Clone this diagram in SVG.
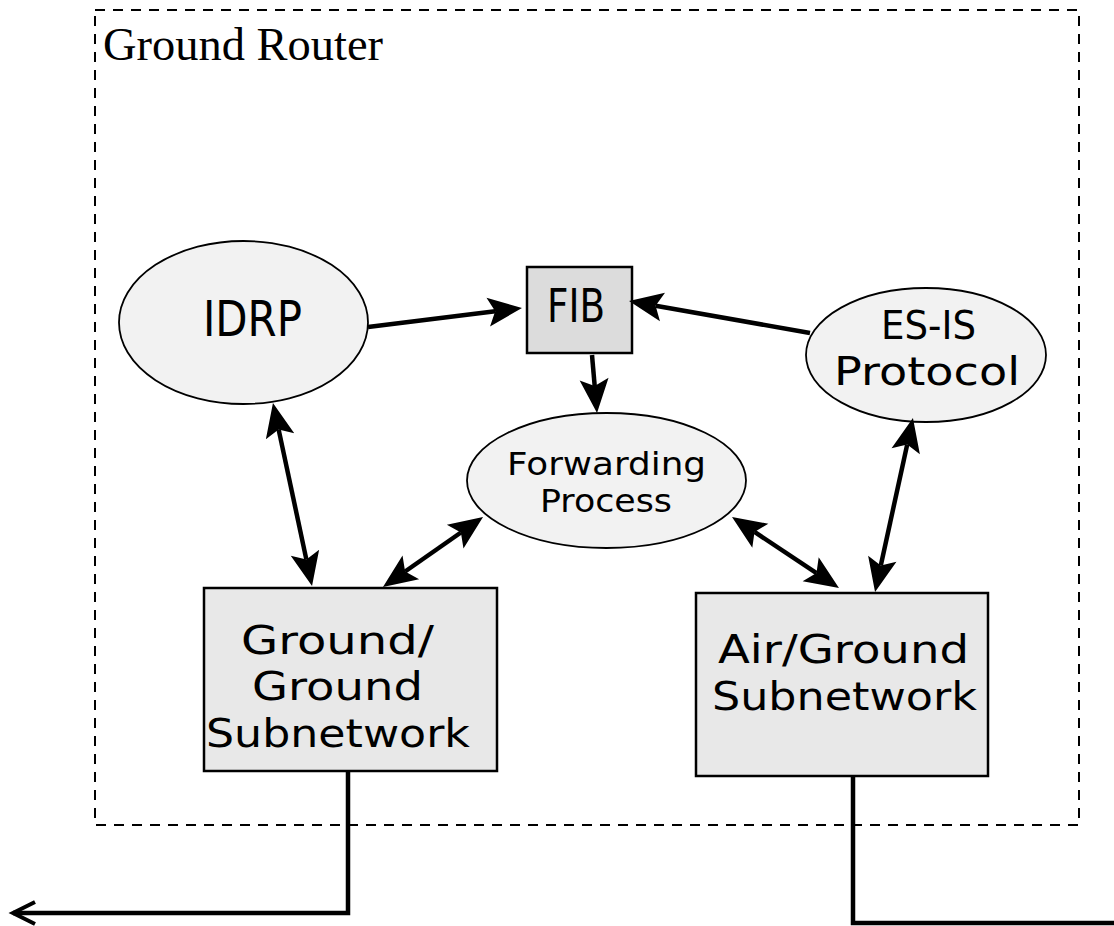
<svg xmlns="http://www.w3.org/2000/svg" width="1114" height="926" viewBox="0 0 1114 926">
  <style>
    .frame { fill: none; stroke: #000; stroke-width: 2; stroke-dasharray: 10 8; }
    .oval { fill: #f2f2f2; stroke: #000; stroke-width: 1.8; }
    .box { fill: #e8e8e8; stroke: #000; stroke-width: 2.5; }
    .fib { fill: #dcdcdc; stroke: #000; stroke-width: 2.5; }
    .lbl { font-family: "DejaVu Sans", "Liberation Sans", sans-serif; fill: #000; text-anchor: middle; }
    .big { font-size: 39.5px; }
    .mid { font-size: 31.5px; }
    .title { font-family: "Liberation Serif", "Times New Roman", serif; font-size: 47px; fill: #000; }
    .link { fill: none; stroke: #000; stroke-width: 4.5; }
  </style>
  <defs>
    <marker id="head" markerUnits="userSpaceOnUse" markerWidth="44" markerHeight="34" viewBox="0 -17 44 34" refX="7" refY="0" orient="auto-start-reverse" overflow="visible">
      <path d="M0,-14.5 L34,0 L0,14.5 L7,0 z" fill="#000"/>
    </marker>
    <marker id="open" markerUnits="userSpaceOnUse" markerWidth="30" markerHeight="30" viewBox="-25 -15 30 30" refX="0" refY="0" orient="auto" overflow="visible">
      <path d="M-22,-11 L0,0 L-22,11" fill="none" stroke="#000" stroke-width="4"/>
    </marker>
  </defs>

  <rect width="1114" height="926" fill="#fff"/>

  <!-- router boundary -->
  <g id="ground-router">
    <rect class="frame" x="95" y="10" width="984" height="815"/>
    <text class="title" x="103" y="60" textLength="280" lengthAdjust="spacingAndGlyphs">Ground Router</text>
  </g>

  <g id="idrp">
    <ellipse class="oval" cx="243.5" cy="322.5" rx="124.5" ry="81.5"/>
    <text class="lbl" x="252.5" y="336" font-size="49" textLength="99" lengthAdjust="spacingAndGlyphs">IDRP</text>
  </g>

  <g id="fib">
    <rect class="fib" x="527" y="267" width="105" height="86"/>
    <text class="lbl" x="576" y="322" font-size="46" textLength="58" lengthAdjust="spacingAndGlyphs">FIB</text>
  </g>

  <g id="es-is">
    <ellipse class="oval" cx="926" cy="355" rx="120" ry="67"/>
    <text class="lbl big" x="928.5" y="339" textLength="95" lengthAdjust="spacingAndGlyphs">ES-IS</text>
    <text class="lbl big" x="927" y="385" textLength="186" lengthAdjust="spacingAndGlyphs">Protocol</text>
  </g>

  <g id="forwarding">
    <ellipse class="oval" cx="606.5" cy="480.5" rx="139.5" ry="67.5" fill="#f6f6f6"/>
    <text class="lbl mid" x="606.5" y="475" textLength="199" lengthAdjust="spacingAndGlyphs">Forwarding</text>
    <text class="lbl mid" x="606" y="512" textLength="132" lengthAdjust="spacingAndGlyphs">Process</text>
  </g>

  <g id="ground-ground">
    <rect class="box" x="204" y="588" width="293" height="183"/>
    <text class="lbl big" x="337.5" y="654" textLength="193" lengthAdjust="spacingAndGlyphs">Ground/</text>
    <text class="lbl big" x="337.5" y="700" textLength="171" lengthAdjust="spacingAndGlyphs">Ground</text>
    <text class="lbl big" x="338" y="747" textLength="264" lengthAdjust="spacingAndGlyphs">Subnetwork</text>
  </g>

  <g id="air-ground">
    <rect class="box" x="696" y="593" width="292" height="183"/>
    <text class="lbl big" x="843.5" y="663" textLength="251" lengthAdjust="spacingAndGlyphs">Air/Ground</text>
    <text class="lbl big" x="844.5" y="710" textLength="265" lengthAdjust="spacingAndGlyphs">Subnetwork</text>
  </g>

  <!-- connectors: line ends sit 27px short of each arrow tip -->
  <g id="connectors">
    <line class="link" x1="368" y1="327" x2="495.2" y2="311.3" marker-end="url(#head)"/>
    <line class="link" x1="810" y1="333" x2="655.6" y2="305.7" marker-end="url(#head)"/>
    <line class="link" x1="592" y1="355" x2="594.7" y2="386.1" marker-end="url(#head)"/>
    <line class="link" x1="278.6" y1="429.4" x2="306.4" y2="559.6" marker-start="url(#head)" marker-end="url(#head)"/>
    <line class="link" x1="405.1" y1="571.5" x2="460.9" y2="532.5" marker-start="url(#head)" marker-end="url(#head)"/>
    <line class="link" x1="754.5" y1="531.9" x2="816.5" y2="573.1" marker-start="url(#head)" marker-end="url(#head)"/>
    <line class="link" x1="907.2" y1="444.4" x2="880.8" y2="565.6" marker-start="url(#head)" marker-end="url(#head)"/>
    <path class="link" d="M348,770 V913 H13" marker-end="url(#open)"/>
    <path class="link" d="M853,777 V923 H1116"/>
  </g>
</svg>
